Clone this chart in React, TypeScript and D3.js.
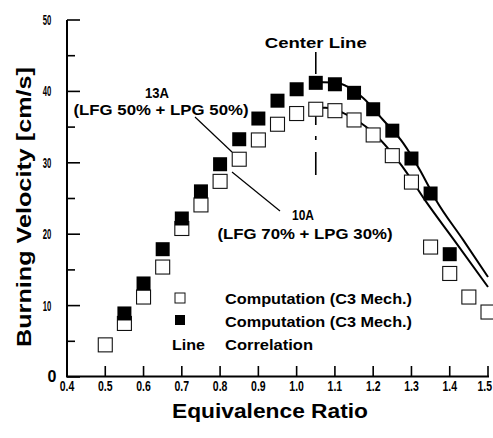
import React from "react";
import * as d3 from "d3";

const W = 493;
const H = 438;

// Open squares (lower series)
const openPhi = [0.5, 0.55, 0.6, 0.65, 0.7, 0.75, 0.8, 0.85, 0.9, 0.95, 1.0, 1.05, 1.1, 1.15, 1.2, 1.25, 1.3, 1.35, 1.4, 1.45, 1.5];
const openVel = [4.5, 7.5, 11.2, 15.4, 20.8, 24.1, 27.4, 30.5, 33.2, 35.4, 36.9, 37.5, 37.3, 36.0, 33.9, 31.0, 27.3, 18.2, 14.5, 11.2, 9.1];

// Filled squares (upper series)
const filledPhi = [0.55, 0.6, 0.65, 0.7, 0.75, 0.8, 0.85, 0.9, 0.95, 1.0, 1.05, 1.1, 1.15, 1.2, 1.25, 1.3, 1.35, 1.4];
const filledVel = [8.9, 13.1, 17.9, 22.2, 26.0, 29.8, 33.3, 36.2, 38.7, 40.3, 41.2, 41.0, 39.8, 37.5, 34.5, 30.6, 25.7, 17.2];

// Correlation lines
const corrAPhi = [1.053, 1.075, 1.121, 1.2, 1.288, 1.335, 1.411, 1.5];
const corrAVel = [37.7, 37.7, 37.0, 34.2, 28.6, 24.8, 19.2, 12.6];
const corrBPhi = [1.053, 1.103, 1.173, 1.226, 1.278, 1.322, 1.364, 1.435, 1.5];
const corrBVel = [41.3, 41.2, 39.1, 36.0, 32.8, 29.0, 24.8, 19.2, 14.0];

const xTicks = [0.4, 0.5, 0.6, 0.7, 0.8, 0.9, 1.0, 1.1, 1.2, 1.3, 1.4, 1.5];
const yMajor = [0, 10, 20, 30, 40, 50];
const yMinor = [5, 15, 25, 35, 45];
const centerPhi = 1.05;

const FONT = "'Liberation Sans', Arial, Helvetica, sans-serif";

export default function App() {
  const x = d3.scaleLinear().domain([0.4, 1.5]).range([67, 488]);
  const y = d3.scaleLinear().domain([0, 50]).range([377, 20]);
  const S = 14;
  const line = d3
    .line<[number, number]>()
    .x((d) => x(d[0]))
    .y((d) => y(d[1]))
    .curve(d3.curveMonotoneX);
  const lineA = line(corrAPhi.map((p, i) => [p, corrAVel[i]] as [number, number])) || "";
  const lineB = line(corrBPhi.map((p, i) => [p, corrBVel[i]] as [number, number])) || "";
  const cx = x(centerPhi);
  const sp = "spacingAndGlyphs";

  return (
    <svg
      width={W}
      height={H}
      viewBox={`0 0 ${W} ${H}`}
      style={{ position: "absolute", left: 0, top: 0, background: "#fff" }}
      fontFamily={FONT}
    >
      <rect x={0} y={0} width={W} height={H} fill="#fff" />
      <defs>
        <clipPath id="plot">
          <rect x={67} y={20} width={426} height={357} />
        </clipPath>
      </defs>

      {/* center line */}
      <line x1={cx} x2={cx} y1={52} y2={74} stroke="#000" strokeWidth={1.6} />
      <line x1={cx} x2={cx} y1={103} y2={175} stroke="#000" strokeWidth={1.6} strokeDasharray="22,11,4,12,23" />

      {/* correlation lines */}
      <g clipPath="url(#plot)">
        <path d={lineA} fill="none" stroke="#000" strokeWidth={2} />
        <path d={lineB} fill="none" stroke="#000" strokeWidth={2} />
      </g>

      {/* open squares */}
      {openPhi.map((p, i) => (
        <rect
          key={"o" + i}
          x={x(p) - S / 2}
          y={y(openVel[i]) - S / 2}
          width={S}
          height={S}
          fill="#fff"
          stroke="#111"
          strokeWidth={1.1}
        />
      ))}
      {/* filled squares */}
      {filledPhi.map((p, i) => (
        <rect
          key={"f" + i}
          x={x(p) - S / 2}
          y={y(filledVel[i]) - S / 2}
          width={S}
          height={S}
          fill="#000"
        />
      ))}

      {/* axes */}
      <line x1={67} x2={67} y1={20} y2={377} stroke="#000" strokeWidth={2} />
      <line x1={66} x2={489} y1={376.5} y2={376.5} stroke="#000" strokeWidth={2} />
      {yMajor.map((v) => (
        <line key={"ym" + v} x1={67} x2={80} y1={y(v)} y2={y(v)} stroke="#000" strokeWidth={1.6} />
      ))}
      {yMinor.map((v) => (
        <line key={"yn" + v} x1={67} x2={75} y1={y(v)} y2={y(v)} stroke="#000" strokeWidth={1.6} />
      ))}
      {xTicks.map((t) => (
        <line key={"xt" + t} x1={x(t)} x2={x(t)} y1={377} y2={366} stroke="#000" strokeWidth={1.6} />
      ))}

      {/* y tick labels */}
      {yMajor.map((v) =>
        v === 0 ? (
          <text key={"yl" + v} x={52} y={y(v) + 5} fontSize={16} fontWeight="bold" textAnchor="middle">
            0
          </text>
        ) : (
          <text
            key={"yl" + v}
            transform={`translate(47,${y(v) + 5}) scale(0.55,1)`}
            fontSize={14}
            fontWeight="bold"
            textAnchor="middle"
          >
            {v}
          </text>
        )
      )}
      {/* x tick labels */}
      {xTicks.map((t, i) => (
        <text
          key={"xl" + t}
          transform={`translate(${i === xTicks.length - 1 ? 492 : x(t)},${391}) scale(0.7,1)`}
          fontSize={15}
          fontWeight="bold"
          textAnchor={i === xTicks.length - 1 ? "end" : "middle"}
        >
          {t.toFixed(1)}
        </text>
      ))}

      {/* axis titles */}
      <text x={270} y={418} fontSize={20} fontWeight="bold" textAnchor="middle" textLength={196} lengthAdjust={sp}>
        Equivalence Ratio
      </text>
      <text
        transform="translate(31,207) rotate(-90)"
        fontSize={21}
        fontWeight="bold"
        textAnchor="middle"
        textLength={280}
        lengthAdjust={sp}
      >
        Burning Velocity [cm/s]
      </text>

      {/* annotations */}
      <text x={cx} y={48} fontSize={15} fontWeight="bold" textAnchor="middle" textLength={102} lengthAdjust={sp}>
        Center Line
      </text>
      <text x={157} y={98} fontSize={14} fontWeight="bold" textAnchor="middle" textLength={24} lengthAdjust={sp}>
        13A
      </text>
      <text x={161} y={115} fontSize={14} fontWeight="bold" textAnchor="middle" textLength={175} lengthAdjust={sp}>
        (LFG 50% + LPG 50%)
      </text>
      <line x1={195} y1={117} x2={232} y2={152} stroke="#000" strokeWidth={1.2} />
      <text x={303} y={220} fontSize={14} fontWeight="bold" textAnchor="middle" textLength={22} lengthAdjust={sp}>
        10A
      </text>
      <text x={305} y={239} fontSize={14} fontWeight="bold" textAnchor="middle" textLength={175} lengthAdjust={sp}>
        (LFG 70% + LPG 30%)
      </text>
      <line x1={232} y1={172} x2={280} y2={211} stroke="#000" strokeWidth={1.2} />

      {/* legend */}
      <rect x={175} y={293} width={10} height={10} fill="#fff" stroke="#111" strokeWidth={1} />
      <rect x={175} y={315} width={10} height={10} fill="#000" />
      <text x={225} y={304} fontSize={14} fontWeight="bold" textLength={187} lengthAdjust={sp}>
        Computation (C3 Mech.)
      </text>
      <text x={225} y={327} fontSize={14} fontWeight="bold" textLength={187} lengthAdjust={sp}>
        Computation (C3 Mech.)
      </text>
      <text x={172} y={350} fontSize={14} fontWeight="bold" textLength={33} lengthAdjust={sp}>
        Line
      </text>
      <text x={225} y={350} fontSize={14} fontWeight="bold" textLength={88} lengthAdjust={sp}>
        Correlation
      </text>
    </svg>
  );
}
